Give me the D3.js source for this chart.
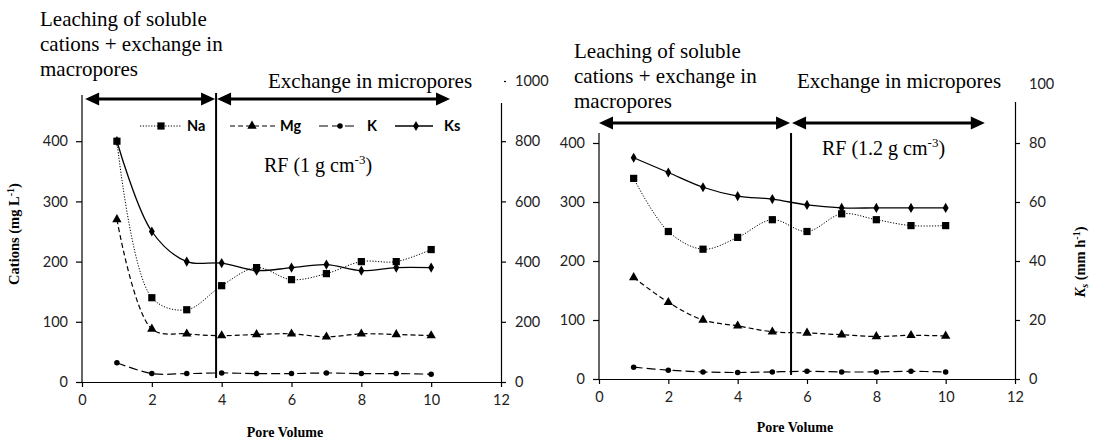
<!DOCTYPE html>
<html><head>
<meta charset="UTF-8">
<script src="https://cdn.jsdelivr.net/npm/d3@7"></script>
<style>
body{margin:0;background:#fff}
.tick text{font-family:Lato,"Open Sans",sans-serif;font-size:14.5px;fill:#222}
.serif{font-family:"Liberation Serif","Times New Roman",serif;fill:#000}
.leg{font-family:Lato,sans-serif;font-weight:bold;font-size:14.5px}
</style>
</head><body>
<svg id="chart" width="1093" height="441"></svg>
<script>
// pore volume (x) for both columns
var poreVol = [1, 2, 3, 4, 5, 6, 7, 8, 9, 10];
var xTicks = [0, 2, 4, 6, 8, 10, 12];

// RF 1 g cm-3
var na1 = [400, 140, 120, 160, 190, 170, 180, 200, 200, 220];
var mg1 = [270, 88, 80, 77, 79, 80, 75, 80, 79, 77];
var k1  = [32, 14, 14, 15, 14, 14, 15, 14, 14, 13];
var ks1 = [800, 500, 400, 395, 370, 380, 390, 370, 380, 380];

// RF 1.2 g cm-3
var na2 = [340, 250, 220, 240, 270, 250, 280, 270, 260, 260];
var mg2 = [172, 130, 100, 90, 80, 78, 75, 72, 74, 73];
var k2  = [20, 15, 12, 11, 12, 13, 12, 12, 13, 12];
var ks2 = [75, 70, 65, 62, 61, 59, 58, 58, 58, 58];

// the 500 label on the left axes sits under the text boxes, so it is not drawn
var leftTicks = [0, 100, 200, 300, 400];
var rightTicks1 = [0, 200, 400, 600, 800, 1000];
var rightTicks2 = [0, 20, 40, 60, 80, 100];

var svg = d3.select("#chart");

var styles = {
  Na: {dash: "1.2,1.6", w: 1, sym: d3.symbolSquare, size: 52},
  Mg: {dash: "5,3", w: 1.2, sym: d3.symbolTriangle, size: 38},
  K:  {dash: "9,4", w: 1.2, sym: d3.symbolCircle, size: 24},
  Ks: {dash: null, w: 1.3, sym: d3.symbolDiamond, size: 30}
};

function panel(p){
  var g = svg.append("g");
  var x = d3.scaleLinear().domain([0, 12]).range([p.x0, p.x1]);
  var yl = d3.scaleLinear().domain([0, 500]).range([p.y0, p.y1]);
  var yr = d3.scaleLinear().domain([0, p.rmax]).range([p.y0, p.y1]);

  g.append("g").attr("transform", "translate(0," + p.y0 + ")")
    .call(d3.axisBottom(x).tickValues(xTicks).tickSize(5).tickSizeOuter(0).tickPadding(8));
  g.append("g").attr("transform", "translate(" + p.x0 + ",0)")
    .call(d3.axisLeft(yl).tickValues(leftTicks).tickSize(6).tickSizeOuter(0).tickPadding(8))
    .select(".domain").attr("d", "M0," + p.y0 + "V" + p.y1);
  g.append("g").attr("transform", "translate(" + p.x1 + ",0)")
    .call(d3.axisRight(yr).tickValues(p.rticks).tickFormat(d3.format("d")).tickSize(5).tickSizeOuter(0).tickPadding(9));
  g.selectAll(".domain, .tick line").attr("stroke", "#000").attr("stroke-width", 1.2);

  var series = [
    {k: "Na", v: p.na, y: yl},
    {k: "Mg", v: p.mg, y: yl},
    {k: "K", v: p.k, y: yl},
    {k: "Ks", v: p.ks, y: yr}
  ];
  series.forEach(function(s){
    var st = styles[s.k];
    var line = d3.line().curve(d3.curveCatmullRom.alpha(0.5))
      .x(function(d, i){ return x(poreVol[i]); })
      .y(function(d){ return s.y(d); });
    g.append("path").attr("d", line(s.v)).attr("fill", "none")
      .attr("stroke", "#000").attr("stroke-width", st.w)
      .attr("stroke-dasharray", st.dash);
  });
  series.forEach(function(s){
    var st = styles[s.k];
    g.selectAll(null).data(s.v).enter().append("path")
      .attr("d", d3.symbol().type(st.sym).size(st.size))
      .attr("transform", function(d, i){ return "translate(" + x(poreVol[i]) + "," + s.y(d) + ")"; })
      .attr("fill", "#000");
  });

  // white text boxes hide the top of the plot, like in the source
  p.boxes.forEach(function(b){
    g.append("rect").attr("x", b[0]).attr("y", b[1]).attr("width", b[2]).attr("height", b[3]).attr("fill", "#fff");
  });

  // divider
  g.append("line").attr("x1", x(p.div)).attr("x2", x(p.div))
    .attr("y1", p.divTop).attr("y2", p.y0 - 4).attr("stroke", "#000").attr("stroke-width", 2);

  // arrows
  function arrow(a, b, yy){
    g.append("line").attr("x1", a + 12).attr("x2", b - 12).attr("y1", yy).attr("y2", yy)
      .attr("stroke", "#000").attr("stroke-width", 3.2);
    g.append("path").attr("d", "M" + a + "," + yy + "l14,-6.5v13z").attr("fill", "#000");
    g.append("path").attr("d", "M" + b + "," + yy + "l-14,-6.5v13z").attr("fill", "#000");
  }
  arrow(x(p.arr[0]), x(p.div) - 1, p.arrY);
  arrow(x(p.div) + 1, x(p.arr[1]), p.arrY);

  // labels
  var t = g.append("text").attr("class", "serif").attr("font-size", 21);
  p.leach.forEach(function(s, i){
    t.append("tspan").attr("x", p.leachX).attr("y", p.leachY + i * 25).text(s);
  });
  g.append("text").attr("class", "serif").attr("font-size", 21)
    .attr("x", p.exX).attr("y", 88).text("Exchange in micropores");
  var rf = g.append("text").attr("class", "serif").attr("font-size", 20)
    .attr("x", p.rfX).attr("y", p.rfY);
  rf.append("tspan").text(p.rf);
  rf.append("tspan").attr("dy", -8).attr("font-size", 13).text("-3");
  rf.append("tspan").attr("dy", 8).text(")");

  g.append("text").attr("class", "serif").attr("font-size", 14).attr("font-weight", "bold")
    .attr("text-anchor", "middle").attr("x", p.pvX).attr("y", p.pvY).text("Pore Volume");
  return g;
}

panel({x0: 82, x1: 501, y0: 382, y1: 81, rmax: 1000, rticks: rightTicks1,
  na: na1, mg: mg1, k: k1, ks: ks1,
  boxes: [[20, 0, 196, 95], [216, 55, 288, 48]],
  div: 3.84, divTop: 93, arr: [0.09, 10.54], arrY: 99,
  leach: ["Leaching of soluble", "cations + exchange in", "macropores"], leachX: 40, leachY: 26,
  exX: 268, rf: "RF (1 g cm", rfX: 264, rfY: 172, pvX: 285, pvY: 437});

panel({x0: 599, x1: 1015, y0: 379, y1: 84, rmax: 100, rticks: rightTicks2,
  na: na2, mg: mg2, k: k2, ks: ks2,
  boxes: [[550, 40, 462, 93], [1010, 40, 12, 62]],
  div: 5.54, divTop: 133, arr: [0.0, 11.13], arrY: 123,
  leach: ["Leaching of soluble", "cations + exchange in", "macropores"], leachX: 574, leachY: 58,
  exX: 797, rf: "RF (1.2 g cm", rfX: 822, rfY: 155, pvX: 795, pvY: 432});

// legend (left panel)
var legend = [
  {k: "Na", a: 140, b: 181, m: 161, t: 187},
  {k: "Mg", a: 230, b: 275, m: 252, t: 280},
  {k: "K", a: 319, b: 358, m: 340, t: 367},
  {k: "Ks", a: 395, b: 433, m: 416, t: 444}
];
var lg = svg.append("g");
legend.forEach(function(d){
  var st = styles[d.k];
  lg.append("line").attr("x1", d.a).attr("x2", d.b).attr("y1", 126).attr("y2", 126)
    .attr("stroke", "#000").attr("stroke-width", st.w).attr("stroke-dasharray", st.dash);
  lg.append("path").attr("d", d3.symbol().type(st.sym).size(st.size)).attr("transform", "translate(" + d.m + ",126)");
  lg.append("text").attr("class", "leg").attr("x", d.t).attr("y", 131).text(d.k);
});

// axis titles
var cy = svg.append("text").attr("class", "serif").attr("font-size", 14.5).attr("font-weight", "bold")
  .attr("text-anchor", "middle").attr("transform", "translate(19,234) rotate(-90)");
cy.append("tspan").text("Cations  (mg L");
cy.append("tspan").attr("dy", -5).attr("font-size", 10).text("-1");
cy.append("tspan").attr("dy", 5).text(")");

var ky = svg.append("text").attr("class", "serif").attr("font-size", 14.5).attr("font-weight", "bold")
  .attr("text-anchor", "middle").attr("transform", "translate(1085,262) rotate(-90)");
ky.append("tspan").attr("font-style", "italic").text("K");
ky.append("tspan").attr("dy", 3).attr("font-size", 10).attr("font-style", "italic").text("s");
ky.append("tspan").attr("dy", -3).text(" (mm h");
ky.append("tspan").attr("dy", -5).attr("font-size", 10).text("-1");
ky.append("tspan").attr("dy", 5).text(")");
</script>
</body></html>
